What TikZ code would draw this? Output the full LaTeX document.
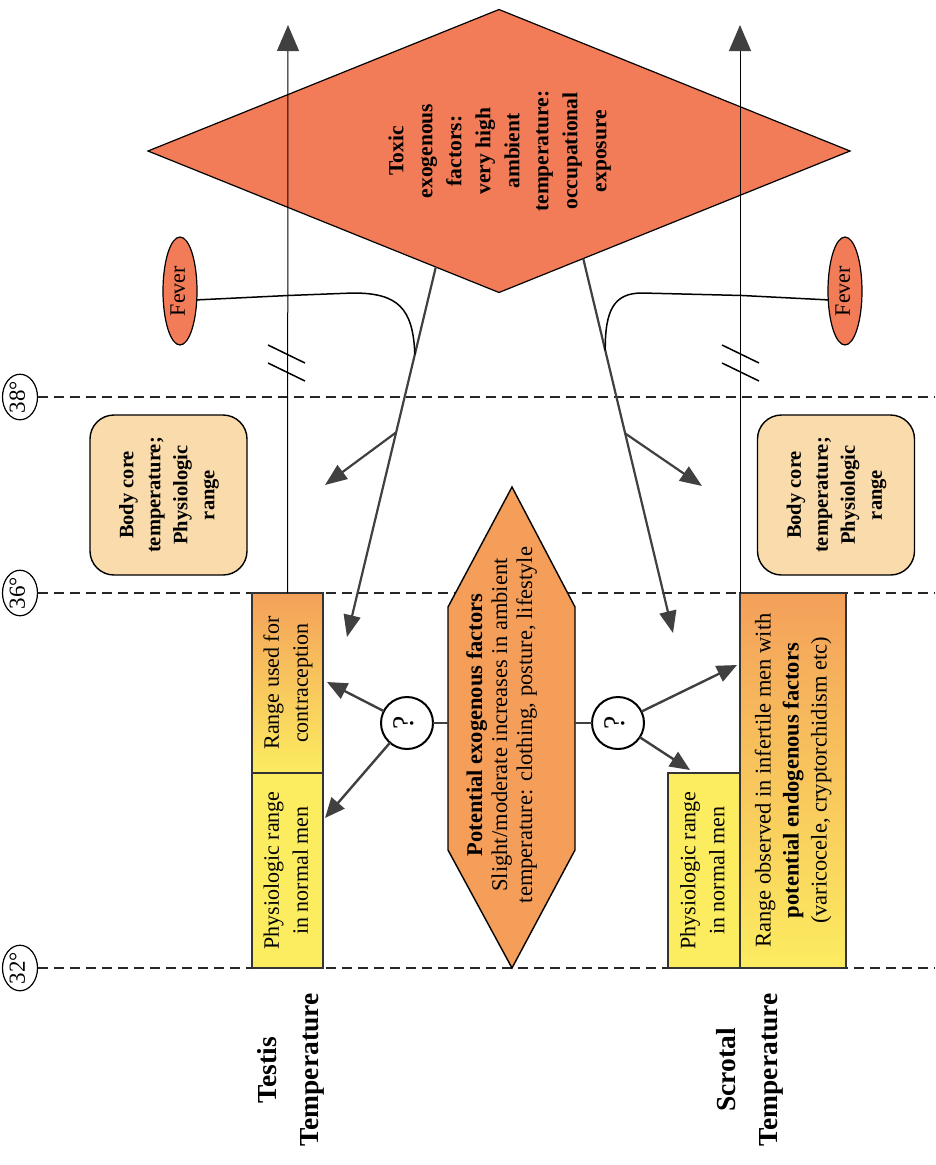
\documentclass[tikz,border=0pt]{standalone}
\usepackage{fontspec}
\setmainfont{Liberation Serif}
\usetikzlibrary{arrows.meta,shapes.geometric,calc}
\definecolor{toxic}{RGB}{242,124,88}
\definecolor{hexfill}{RGB}{244,158,90}
\definecolor{baryellow}{RGB}{252,236,96}
\definecolor{barorange}{RGB}{244,160,90}
\definecolor{corefill}{RGB}{250,220,172}
\definecolor{arrowgray}{RGB}{64,64,64}
\newcommand{\rt}[3]{\rotatebox{90}{\fontsize{#1}{#2}\selectfont\begin{tabular}{@{}c@{}}#3\end{tabular}}}
\newcommand{\rtb}[3]{\rotatebox{90}{\fontsize{#1}{#2}\selectfont\bfseries\begin{tabular}{@{}c@{}}#3\end{tabular}}}
\begin{document}
\begin{tikzpicture}[x=1pt,y=-1pt,
  every node/.style={inner sep=0pt, outer sep=0pt},
  dashline/.style={line width=1.6pt, dash pattern=on 10pt off 6pt, black!85},
  axisline/.style={line width=1pt, black, -{Triangle[length=26pt,width=22pt,color=arrowgray]}},
  diag/.style={line width=2.2pt, draw=arrowgray, -{Triangle[length=22pt,width=17pt]}},
  qarrow/.style={line width=2.4pt, draw=arrowgray, -{Triangle[length=20pt,width=17pt]}},
  qlink/.style={line width=2.4pt, draw=arrowgray},
  feverline/.style={line width=1.5pt, black},
  brk/.style={line width=1.5pt, black},
  degc/.style={ellipse, draw=black, line width=1.2pt, fill=white, minimum width=35pt, minimum height=43pt},
  qcirc/.style={circle, draw=black, line width=2pt, fill=white, minimum size=52pt},
  feverell/.style={ellipse, draw=black, line width=1.2pt, fill=toxic, minimum width=34pt, minimum height=108pt},
  corebox/.style={rectangle, rounded corners=24pt, draw=black, line width=1.4pt, fill=corefill, minimum width=157pt, minimum height=160pt},
  barbox/.style={rectangle, draw=black!80, line width=1.4pt},
]
\fill[white] (0,0) rectangle (935,1165);
\useasboundingbox (0,0) rectangle (935,1165);

% degree markers and dashed lines
\node[degc] (d38) at (20,397) {\rt{23}{24}{38°}};
\node[degc] (d36) at (20,593) {\rt{23}{24}{36°}};
\node[degc] (d32) at (20,968) {\rt{23}{24}{32°}};
\coordinate (e38) at (935,397);
\coordinate (e36) at (935,593);
\coordinate (e32) at (935,968);
\draw[dashline] (d38.east) -- (e38);
\draw[dashline] (d36.east) -- (e36);
\draw[dashline] (d32.east) -- (e32);

% toxic diamond
\node[diamond, draw=black, line width=1.2pt, fill=toxic, aspect=2.48, minimum width=702pt, minimum height=283pt] (toxic) at (499,151)
  {\rtb{21.5}{29}{Toxic\\exogenous\\factors:\\very high\\ambient\\temperature:\\occupational\\exposure}};

% hexagon (potential exogenous factors)
\filldraw[fill=hexfill, draw=black, line width=1.4pt] (512,487) -- (575,607) -- (575,850) -- (512,968) -- (448,850) -- (448,607) -- cycle;
\node (hex) at (502,725) {\rt{22.5}{25}{{\bfseries Potential exogenous factors}\\Slight/moderate increases in ambient\\temperature: clothing, posture, lifestyle}};
\coordinate (hexL) at (448,723);
\coordinate (hexR) at (575,723);

% body core boxes
\node[corebox] (coreL) at (168.5,495) {\rtb{20.5}{27}{Body core\\temperature;\\Physiologic\\range}};
\node[corebox] (coreR) at (836,495) {\rtb{20.5}{27}{Body core\\temperature;\\Physiologic\\range}};

% testis bars
\node[barbox, top color=barorange, bottom color=baryellow, minimum width=71pt, minimum height=180pt] (tcontra) at (287.5,683)
  {\rt{22}{29}{Range used for\\contraception}};
\node[barbox, fill=baryellow, minimum width=71pt, minimum height=195pt] (tphys) at (287.5,870.5)
  {\rt{22}{29}{Physiologic range\\in normal men}};
% scrotal bars
\node[barbox, fill=baryellow, minimum width=72pt, minimum height=195pt] (sphys) at (704,870.5)
  {\rt{22}{29}{Physiologic range\\in normal men}};
\node[barbox, top color=barorange, bottom color=baryellow, minimum width=106pt, minimum height=375pt] (sbig) at (793,780.5)
  {\rt{22.5}{28}{Range observed in infertile men with\\{\bfseries potential endogenous factors}\\(varicocele, cryptorchidism etc)}};

% axis lines
\coordinate (ttop) at (288,25);
\coordinate (stop) at (740,25);
\draw[axisline] (tcontra.north) -- (ttop);
\draw[axisline] (sbig.north west) -- (stop);

% break marks
\draw[brk] (268,345) -- (305,363);
\draw[brk] (268,363) -- (305,381);
\draw[brk] (722,345) -- (759,363);
\draw[brk] (722,363) -- (759,381);

% fever ellipses
\node[feverell] (lfever) at (180,291) {\rt{22}{24}{Fever}};
\node[feverell] (rfever) at (845,291) {\rt{22}{24}{Fever}};

% diagonal arrows from the diamond
\path (toxic.south) -- (toxic.west) coordinate[pos=0.18] (tl);
\path (toxic.south) -- (toxic.east) coordinate[pos=0.24] (tr);
\coordinate (ltip) at (347,637);
\coordinate (rtip) at (673,633);
\coordinate (lbtip) at (325,485);
\coordinate (rbtip) at (702,486);
\coordinate (lb) at ($(tl)!0.447!(ltip)$);
\coordinate (rb) at ($(tr)!0.467!(rtip)$);
\coordinate (lm) at ($(tl)!0.236!(ltip)$);
\coordinate (rm) at ($(tr)!0.245!(rtip)$);
\draw[diag] (tl) -- (ltip);
\draw[diag] (tr) -- (rtip);
\draw[diag] (lb) -- (lbtip);
\draw[diag] (rb) -- (rbtip);

% fever connectors
\draw[feverline] (lfever.-28) -- (288,295.5) -- (353,293) .. controls (398,293) and (413,308) .. (lm);
\draw[feverline] (rfever.208) -- (742,295.5) -- (642,293) .. controls (614,293) and (605,310) .. (rm);

% question circles
\node[qcirc] (q1) at (407,723) {\rt{30}{30}{?}};
\node[qcirc] (q2) at (618,723) {\rt{30}{30}{?}};
\draw[qlink] (hexL) -- (q1);
\draw[qlink] (hexR) -- (q2);
\coordinate (q1a) at (327,682);
\coordinate (q1b) at (325,818);
\coordinate (q2a) at (737,665);
\coordinate (q2b) at (690,770);
\draw[qarrow] (q1) -- (q1a);
\draw[qarrow] (q1) -- (q1b);
\draw[qarrow] (q2) -- (q2a);
\draw[qarrow] (q2) -- (q2b);

% axis labels
\node (tlabel) at (289,1070) {\rtb{27.5}{42}{Testis\\Temperature}};
\node (slabel) at (748,1070) {\rtb{27.5}{42}{Scrotal\\Temperature}};
\end{tikzpicture}
\end{document}
